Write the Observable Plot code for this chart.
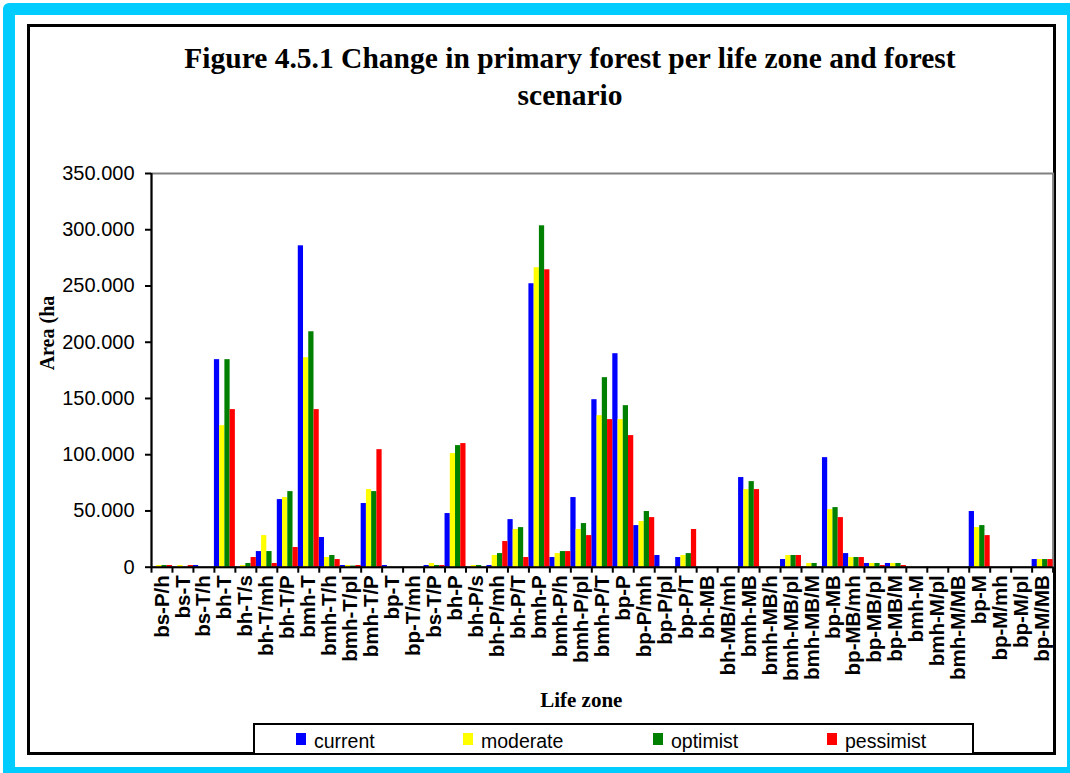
<!DOCTYPE html>
<html><head><meta charset="utf-8">
<script src="https://cdn.jsdelivr.net/npm/d3@7"></script>
<script src="https://cdn.jsdelivr.net/npm/@observablehq/plot@0.6"></script>
<style>
body{margin:0;background:#fff;}
#page{position:relative;width:1070px;height:773px;overflow:hidden;background:#fff;}
#cyan{position:absolute;left:3px;top:3px;width:1076px;height:776px;box-sizing:border-box;border:12px solid #00CCFF;border-radius:6px;}
#frame{position:absolute;left:27px;top:24px;width:1029px;height:731px;box-sizing:border-box;border:3px solid #000;}
#title{position:absolute;left:70px;width:1000px;top:40px;text-align:center;white-space:nowrap;font:bold 29.5px/37px "Liberation Serif","Times New Roman",serif;color:#000;}
#chart{position:absolute;left:0;top:140px;}
#legend{position:absolute;left:253px;top:723px;width:721px;height:32px;box-sizing:border-box;border:2px solid #000;background:#fff;}
.sw{position:absolute;top:8px;width:10px;height:12px;}
.lt{position:absolute;top:5px;font:19.5px/22px "Liberation Sans",Arial,sans-serif;color:#000;white-space:nowrap;}
</style>
</head><body>
<div id="page">
  <div id="cyan"></div>
  <div id="frame"></div>
  <div id="title">Figure 4.5.1 Change in primary forest per life zone and forest<br>scenario</div>
  <div id="chart"></div>
  <div id="legend"></div>
</div>
<script>
const zones = ["bs-P/h","bs-T","bs-T/h","bh-T","bh-T/s","bh-T/mh","bh-T/P","bmh-T","bmh-T/h","bmh-T/pl","bmh-T/P","bp-T","bp-T/mh","bs-T/P","bh-P","bh-P/s","bh-P/mh","bh-P/T","bmh-P","bmh-P/h","bmh-P/pl","bmh-P/T","bp-P","bp-P/mh","bp-P/pl","bp-P/T","bh-MB","bh-MB/mh","bmh-MB","bmh-MB/h","bmh-MB/pl","bmh-MB/M","bp-MB","bp-MB/mh","bp-MB/pl","bp-MB/M","bmh-M","bmh-M/pl","bmh-M/MB","bp-M","bp-M/mh","bp-M/pl","bp-M/MB"];
const current   = [0,0,1500,184500,0,13900,60100,285700,26400,1500,56600,1500,0,1500,47700,0,1500,42300,252000,8600,61900,148900,189800,37000,10400,8600,0,0,79700,0,6800,0,97400,12100,3300,3300,0,0,0,49500,0,0,6800];
const moderate  = [1500,1500,0,125800,1500,28100,61900,186200,8600,1500,69000,0,0,3300,101000,1500,10400,33500,266200,12100,33500,134700,131200,40600,0,10400,0,0,69000,0,10400,3300,51200,8600,3300,3300,0,0,0,35200,0,0,6800];
const optimist  = [1500,0,0,184500,3300,13900,67200,209300,10400,1000,67200,0,0,1500,108100,1500,12100,35200,303500,13900,38800,168500,143600,49500,0,12100,0,0,76100,0,10400,3300,53000,8600,3300,3300,0,0,0,37000,0,0,6800];
const pessimist = [1500,1500,0,140100,8600,3300,17500,140100,6800,1500,104500,0,0,1500,109900,0,22800,8600,264400,13900,28100,131200,117000,44100,0,33500,0,0,69000,0,10400,0,44100,8600,1500,1500,0,0,0,28100,0,0,6800];
const seriesNames = ["current","moderate","optimist","pessimist"];
const seriesColors = ["#0000FF","#FFFF00","#008000","#FF0000"];
const yTicks = [0,50000,100000,150000,200000,250000,300000,350000];

const values = [current, moderate, optimist, pessimist];
const table = zones.flatMap((z,i)=>seriesNames.map((s,j)=>({zone:z, series:s, value:values[j][i]})));

const fmt = d3.formatLocale({decimal:",", thousands:".", grouping:[3], currency:["",""]}).format(",");
const W=1070, H=575, mL=151, mR=17.4, mT=33, mB=148.3;
const bw=(W-mL-mR)/zones.length, q=bw/4;
const serif = "'Liberation Serif','Times New Roman',serif";

const chart = Plot.plot({
  width: W, height: H, marginLeft: mL, marginRight: mR, marginTop: mT, marginBottom: mB,
  style: {fontFamily: "'Liberation Sans',Arial,sans-serif", background: "none", overflow: "visible", color: "#000"},
  x: {domain: zones, padding: 0},
  y: {domain: [0, 350000]},
  marks: [
    Plot.frame({stroke: "#808080", strokeWidth: 2}),
    ...seriesNames.map((s,j)=>Plot.barY(table.filter(d=>d.series===s), {
      x: "zone", y: "value", fill: seriesColors[j], insetLeft: j*q, insetRight: (3-j)*q
    })),
    Plot.ruleY([0], {stroke: "#000", strokeWidth: 2}),
    Plot.ruleX([zones[0]], {stroke: "#000", strokeWidth: 2, dx: -bw/2}),
    Plot.ruleX(zones, {x: d=>d, y1: 0, y2: 0, insetBottom: -6, dx: -bw/2, stroke: "#000", strokeWidth: 2}),
    Plot.ruleX([zones[zones.length-1]], {x: d=>d, y1: 0, y2: 0, insetBottom: -6, dx: bw/2, stroke: "#000", strokeWidth: 2}),
    Plot.axisY({ticks: yTicks, tickFormat: fmt, tickSize: 6, tickPadding: 11, fontSize: 20, strokeWidth: 2, label: null}),
    Plot.axisX({tickSize: 0, tickPadding: 8, tickRotate: -90, fontSize: 20.5, fontWeight: "bold", label: null}),
    Plot.text(["Area (ha"], {frameAnchor: "left", rotate: -90, dx: -104, fontSize: 20, fontWeight: "bold", fontFamily: serif}),
    Plot.text(["Life zone"], {frameAnchor: "bottom", lineAnchor: "middle", dy: 133.3, dx: -21, fontSize: 21, fontWeight: "bold", fontFamily: serif})
  ]
});
document.getElementById("chart").appendChild(chart);

const legend = document.getElementById("legend");
const swX = [41, 208, 398, 572];
seriesNames.forEach((s,j)=>{
  const sw = document.createElement("div");
  sw.className = "sw"; sw.style.left = swX[j]+"px"; sw.style.background = seriesColors[j];
  legend.appendChild(sw);
  const t = document.createElement("div");
  t.className = "lt"; t.style.left = (swX[j]+18)+"px"; t.textContent = s;
  legend.appendChild(t);
});
</script>
</body></html>
